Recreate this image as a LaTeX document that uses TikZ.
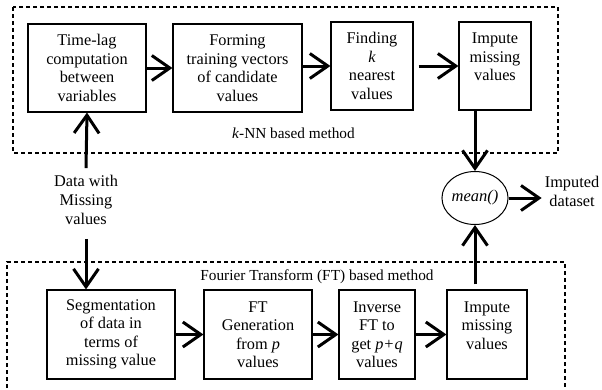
\documentclass[tikz,border=0pt]{standalone}
\usepackage{fontspec}
\setmainfont{Liberation Serif}
\usetikzlibrary{arrows.meta,shapes.geometric}
\begin{document}
\begin{tikzpicture}[x=1pt,y=-1pt,
  box/.style={draw, line width=1.1pt, align=center, inner sep=0pt,
    font=\fontsize{16.3}{18.5}\selectfont, minimum height=88pt},
  plain/.style={align=center, inner sep=0pt, font=\fontsize{16.3}{19}\selectfont},
  lbl/.style={inner sep=0pt, font=\fontsize{15.3}{18}\selectfont},
  arr/.style={line width=3pt, -{Straight Barb[length=18pt,width=25pt,line width=3pt]}},
  frame/.style={line width=1.1pt, dash pattern=on 4pt off 3pt}
]
\useasboundingbox (0,0) rectangle (602,389);
% frames
\draw[frame] (13,7) rectangle (558,153);
\draw[frame] (7,395) -- (7,262) -- (565,262) -- (565,395);
\node[lbl] (knnlbl) at (293.5,133) {\textit{k}-NN based method};
\node[lbl] (ftlbl) at (317,277) {Fourier Transform (FT) based method};
% top row
\node[box, minimum width=118pt] (tl) at (87,68) {Time-lag\\computation\\between\\variables};
\node[box, minimum width=129pt] (fm) at (237.5,68) {Forming\\training vectors\\of candidate\\values};
\node[box, minimum width=82pt] (fk) at (372,66) {Finding\\\textit{k}\\nearest\\values};
\node[box, minimum width=72pt] (im1) at (495,66) {Impute\\missing\\values\\\mbox{}};
% bottom row
\node[box, minimum width=128pt, minimum height=89pt] (sg) at (111,334.5) {Segmentation\\of data in\\terms of\\missing value};
\node[box, minimum width=108pt, minimum height=89pt] (fg) at (258,334.5) {FT\\Generation\\from \textit{p}\\values};
\node[box, minimum width=76pt, minimum height=89pt] (iv) at (377,334.5) {Inverse\\FT to\\get \textit{p+q}\\values};
\node[box, minimum width=80pt, minimum height=89pt] (im2) at (487,334.5) {Impute\\missing\\values\\\mbox{}};
% data, mean, output
\node[plain, inner ysep=7pt] (data) at (86,200) {Data with\\Missing\\values};
\node[draw, ellipse, line width=1pt, minimum width=61pt, minimum height=53pt, inner sep=0pt,
  font=\fontsize{16.5}{18}\selectfont\itshape] (mean) at (475,198) {mean()};
\node[plain, inner sep=3pt] (out) at (572,191) {Imputed\\dataset};
% connectors
\draw[arr] (tl.east) -- (fm.west);
\draw[arr] (fm.east |- fk.west) -- (fk.west);
\draw[arr, shorten <=5pt] (fk.east) -- (im1.west);
\draw[arr] (sg.east) -- (fg.west);
\draw[arr] (fg.east) -- (iv.west);
\draw[arr] (iv.east) -- (im2.west);
\draw[arr] (data.north) -- (tl.south);
\draw[arr, shorten <=7pt] (data.south) -- (data.south |- sg.north);
\draw[arr] (mean.north |- im1.south) -- (mean.north);
\draw[arr, shorten <=5pt] (mean.south |- im2.north) -- (mean.south);
\draw[arr] (mean.east) -- (mean.east -| out.west);
\end{tikzpicture}
\end{document}
